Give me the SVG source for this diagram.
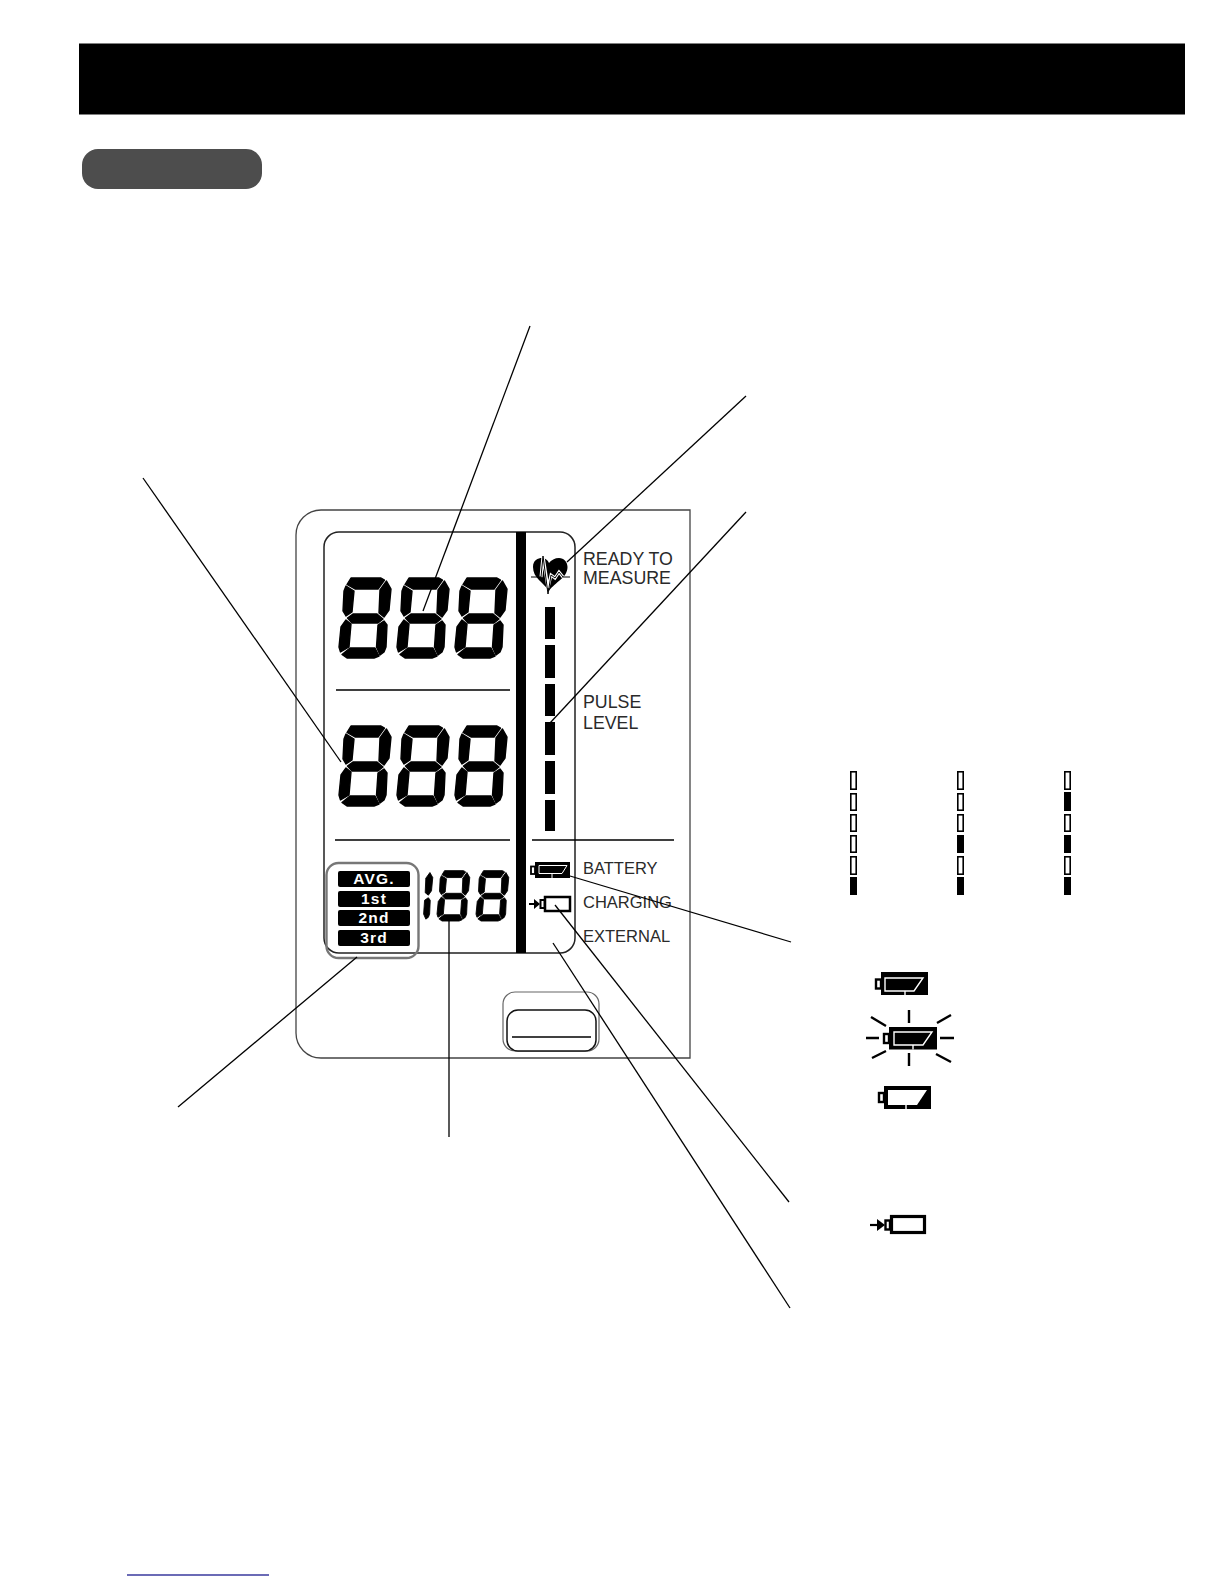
<svg xmlns="http://www.w3.org/2000/svg" width="1224" height="1584" viewBox="0 0 1224 1584">
<style>
.lbl{font-family:"Liberation Sans",Arial,sans-serif;font-size:16.5px;fill:#2a2a2a}
.big{font-size:17.800px}
.tag{font-family:"Liberation Sans",Arial,sans-serif;font-size:15.500px;font-weight:bold;fill:#fff;text-anchor:middle;letter-spacing:1.2px}
.ln{stroke:#000;stroke-width:1.3;fill:none}
.rule{stroke:#000;stroke-width:1.6;fill:none}
.e{fill:#fff;stroke:#000;stroke-width:1.6}
.f{fill:#000}
.ray{stroke:#000;stroke-width:2.4;fill:none}
.seg{fill:#000;stroke:#000;stroke-width:1.4;stroke-linejoin:round}
</style>
<defs>
<g id="seg-ur"><polygon class="seg" points="47.500,4 52,12 50,33 45,40 40,36 41,13"/></g>
<g id="seg-lr"><polygon class="seg" points="45,44 48,48 47,70 45,75 41,78 37.500,70 39,48"/></g>
<g id="digit">
<polygon class="seg" points="12,1 42,1 45.500,3 39,12 16,12 8,7.500"/>
<polygon class="seg" points="7,9 15,14 13,35 7,39 4,34 5,14"/>
<use href="#seg-ur"/>
<polygon class="seg" points="8.500,41 14,37 38,37 44,42 39,46 13,46"/>
<polygon class="seg" points="7,43 12,47 10,70 1.500,75 0,70 2,50"/>
<use href="#seg-lr"/>
<polygon class="seg" points="3,77.500 11,71 36,71 40,79 35,81 8,81"/>
</g>
</defs>
<rect width="1224" height="1584" fill="#fff"/>

<g id="header"><rect x="79" y="43.500" width="1106" height="71" fill="#000"/></g>
<g id="section-pill"><rect x="82" y="149" width="180" height="40" rx="16" fill="#4d4d4d"/></g>

<g id="device-body">
<path d="M690 510H321a25 25 0 0 0-25 25V1033a25 25 0 0 0 25 25H690Z" fill="#fff" stroke="#444" stroke-width="1.300"/>
</g>
<g id="lcd-panel">
<rect x="324" y="532" width="251" height="421" rx="15" fill="#fff" stroke="#222" stroke-width="1.500"/>
<rect x="516" y="532" width="10" height="421" fill="#000"/>
<path class="rule" d="M336 690H510M335 840H510M532 840H674"/>
</g>
<g id="systolic-display">
<use href="#digit" x="339" y="577"/><use href="#digit" x="397" y="577"/><use href="#digit" x="455" y="577"/>
</g>
<g id="diastolic-display">
<use href="#digit" x="339" y="725"/><use href="#digit" x="397" y="725"/><use href="#digit" x="455" y="725"/>
</g>
<g id="pulse-display">
<g transform="translate(400 870) scale(.63)"><use href="#seg-ur"/><use href="#seg-lr"/></g>
<use href="#digit" transform="translate(437 870) scale(.63)"/>
<use href="#digit" transform="translate(476 870) scale(.63)"/>
</g>
<g id="average-tags">
<rect x="326.500" y="863" width="92" height="95" rx="12" fill="none" stroke="#777" stroke-width="2.400"/>
<rect x="338" y="871" width="72" height="16" rx="2"/><text class="tag" x="374" y="884">AVG.</text>
<rect x="338" y="891" width="72" height="16" rx="2"/><text class="tag" x="374" y="904">1st</text>
<rect x="338" y="910" width="72" height="16" rx="2"/><text class="tag" x="374" y="923">2nd</text>
<rect x="338" y="930" width="72" height="16" rx="2"/><text class="tag" x="374" y="943">3rd</text>
</g>
<g id="heart-icon">
<path d="M549 591C543 582 533 578 533 567C533 560 538 558 542 558C545 558 548 560 549 563C551 560 555 558 559 558C564 558 567.500 562 567.500 567C567.500 578 555 582 549 591Z" fill="#000"/>
<path d="M541 577L543 556L548 588L551 575L555 578L559 572L563 577" fill="none" stroke="#fff" stroke-width="3"/>
<path d="M531 577H541L543 556L548 594L551 575L555 578L559 572L563 577H570" fill="none" stroke="#000" stroke-width="1"/>
<text class="lbl big" x="583" y="565">READY TO</text>
<text class="lbl big" x="583" y="584">MEASURE</text>
</g>
<g id="pulse-level">
<rect x="545" y="607" width="10" height="32"/><rect x="545" y="645" width="10" height="33"/><rect x="545" y="684" width="10" height="32"/><rect x="545" y="722" width="10" height="33"/><rect x="545" y="761" width="10" height="33"/><rect x="545" y="800" width="10" height="31"/>
<text class="lbl big" x="583" y="708">PULSE</text>
<text class="lbl big" x="583" y="729">LEVEL</text>
</g>
<g id="battery-indicator">
<rect x="535" y="862" width="35" height="16"/>
<rect x="531" y="866.500" width="4" height="7.500" fill="#fff" stroke="#000" stroke-width="1.800"/>
<path d="M539 865.500H567L562 873.500H539Z" fill="#000" stroke="#fff" stroke-width="1"/>
<path d="M552 873.500V878" stroke="#fff" stroke-width="1"/>
<text class="lbl" x="583" y="874">BATTERY</text>
</g>
<g id="charging-indicator">
<rect x="545" y="897" width="25" height="14" fill="#fff" stroke="#000" stroke-width="2.500"/>
<rect x="540.500" y="900" width="4" height="8" fill="#fff" stroke="#000" stroke-width="2"/>
<path d="M529 904H536" stroke="#000" stroke-width="2"/><path d="M534 899L540 904L534 909Z"/>
<text class="lbl" x="583" y="908">CHARGING</text>
<text class="lbl" x="583" y="942">EXTERNAL</text>
</g>
<g id="button">
<rect x="503" y="992" width="96" height="59" rx="12" fill="#fff" stroke="#666" stroke-width="1.200"/>
<rect x="507" y="1010" width="89" height="41" rx="11" fill="#fff" stroke="#111" stroke-width="1.500"/>
<path class="rule" d="M512 1037H591"/>
</g>

<g id="level-column-1">
<rect class="e" x="850.800" y="771.800" width="5.400" height="17.400"/><rect class="e" x="850.800" y="793.800" width="5.400" height="16.400"/><rect class="e" x="850.800" y="814.800" width="5.400" height="16.400"/><rect class="e" x="850.800" y="835.800" width="5.400" height="16.400"/><rect class="e" x="850.800" y="856.800" width="5.400" height="17.400"/><rect class="f" x="850" y="877" width="7" height="18"/>
</g>
<g id="level-column-2">
<rect class="e" x="957.800" y="771.800" width="5.400" height="17.400"/><rect class="e" x="957.800" y="793.800" width="5.400" height="16.400"/><rect class="e" x="957.800" y="814.800" width="5.400" height="16.400"/><rect class="f" x="957" y="835" width="7" height="18"/><rect class="e" x="957.800" y="856.800" width="5.400" height="17.400"/><rect class="f" x="957" y="877" width="7" height="18"/>
</g>
<g id="level-column-3">
<rect class="e" x="1064.800" y="771.800" width="5.400" height="17.400"/><rect class="f" x="1064" y="792" width="7" height="19"/><rect class="e" x="1064.800" y="814.800" width="5.400" height="16.400"/><rect class="f" x="1064" y="835" width="7" height="18"/><rect class="e" x="1064.800" y="856.800" width="5.400" height="17.400"/><rect class="f" x="1064" y="877" width="7" height="18"/>
</g>

<g id="battery-full">
<rect x="881" y="972" width="47" height="23"/>
<rect x="876" y="979.500" width="5" height="9" fill="#fff" stroke="#000" stroke-width="2.400"/>
<path d="M885 978H923L914 991H885Z" fill="#000" stroke="#fff" stroke-width="1.400"/>
<path d="M905 991V995" stroke="#fff" stroke-width="1.400"/>
</g>
<g id="battery-blinking">
<rect x="889" y="1027" width="48" height="22.500"/>
<rect x="884" y="1034" width="5" height="9" fill="#fff" stroke="#000" stroke-width="2.400"/>
<path d="M894 1032H932L923 1045H894Z" fill="#000" stroke="#fff" stroke-width="1.400"/>
<path d="M913 1045V1049.500" stroke="#fff" stroke-width="1.400"/>
<path class="ray" d="M909 1010V1023M909 1053V1066M866 1038H879M940 1038H954M871 1017L886 1026M937 1023L951 1015M872 1058L886 1051M936 1054L951 1062"/>
</g>
<g id="battery-low">
<rect x="884" y="1086" width="47" height="23"/>
<rect x="879" y="1093" width="5" height="9" fill="#fff" stroke="#000" stroke-width="2.400"/>
<path d="M888 1090H927L917 1105H888Z" fill="#fff"/>
<path d="M906 1105V1109" stroke="#fff" stroke-width="1.400"/>
</g>
<g id="charging-icon">
<rect x="891.500" y="1216.500" width="33" height="16" fill="#fff" stroke="#000" stroke-width="3.200"/>
<rect x="885.500" y="1220.500" width="4.500" height="9" fill="#fff" stroke="#000" stroke-width="2.400"/>
<path d="M870 1225H880" stroke="#000" stroke-width="2.200"/><path d="M877 1219L885 1225L877 1231Z"/>
</g>

<g id="connectors">
<path class="ln" d="M530 326L423 611"/>
<path class="ln" d="M746 396L567 562"/>
<path class="ln" d="M746 512L550 723"/>
<path class="ln" d="M143 478L341 762"/>
<path class="ln" d="M357 957L178 1107"/>
<path class="ln" d="M449 921V1137"/>
<path class="ln" d="M570 876L791 942"/>
<path class="ln" d="M555 905L789 1202"/>
<path class="ln" d="M553 943L790 1308"/>
</g>
<g id="footer-rule"><path d="M127 1575H269" stroke="#3a3a9e" stroke-width="1.300"/></g>
</svg>
